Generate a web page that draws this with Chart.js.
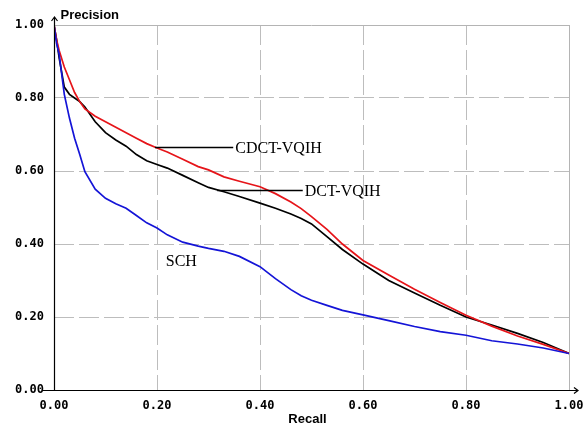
<!DOCTYPE html>
<html>
<head>
<meta charset="utf-8">
<script src="https://cdn.jsdelivr.net/npm/chart.js@4"></script>
<style>
  body { margin: 0; background: #fff; }
  #wrap { width: 585px; height: 428px; }
</style>
</head>
<body>
<div id="wrap"><canvas id="chart" width="585" height="428"></canvas></div>
<script>
// recall values shared by all three curves
const recall = [0, 0.005, 0.01, 0.02, 0.03, 0.04, 0.05, 0.06, 0.08, 0.10, 0.12, 0.14, 0.16, 0.18, 0.20,
  0.22, 0.25, 0.28, 0.30, 0.33, 0.36, 0.40, 0.43, 0.46, 0.48, 0.50, 0.53, 0.56, 0.60, 0.65, 0.70,
  0.75, 0.80, 0.85, 0.90, 0.95, 1.00];

const cdctVqih = [1.00, 0.96, 0.93, 0.885, 0.85, 0.815, 0.79, 0.77, 0.75, 0.735, 0.72, 0.705, 0.69, 0.675, 0.663,
  0.652, 0.632, 0.612, 0.603, 0.584, 0.572, 0.557, 0.538, 0.515, 0.497, 0.475, 0.44, 0.40, 0.355, 0.315, 0.276,
  0.24, 0.205, 0.175, 0.148, 0.125, 0.10];

const dctVqih = [1.00, 0.96, 0.91, 0.83, 0.81, 0.80, 0.79, 0.775, 0.735, 0.705, 0.685, 0.668, 0.645, 0.628, 0.618,
  0.608, 0.588, 0.568, 0.555, 0.543, 0.530, 0.512, 0.498, 0.482, 0.47, 0.455, 0.42, 0.385, 0.345, 0.30, 0.266,
  0.232, 0.20, 0.178, 0.155, 0.13, 0.10];

const sch = [1.00, 0.95, 0.92, 0.81, 0.745, 0.69, 0.645, 0.598, 0.55, 0.525, 0.51, 0.498, 0.478, 0.458, 0.444,
  0.425, 0.405, 0.394, 0.388, 0.38, 0.366, 0.338, 0.305, 0.275, 0.258, 0.246, 0.232, 0.218, 0.206, 0.19, 0.174,
  0.16, 0.15, 0.135, 0.126, 0.115, 0.10];

const tickValues = [0, 0.2, 0.4, 0.6, 0.8, 1.0];

// callout labels: text, leader line from/to (recall), precision, text start (recall)
const labelText = ["CDCT-VQIH", "DCT-VQIH", "SCH"];
const labelLineFrom = [0.196, 0.317, null];
const labelLineTo = [0.348, 0.483, null];
const labelY = [0.666, 0.548, 0.356];
const labelX = [0.352, 0.487, 0.217];

function points(ys) {
  return recall.map((r, i) => ({ x: r, y: ys[i] }));
}

const decorations = {
  id: "decorations",
  afterDatasetsDraw(chart) {
    const ctx = chart.ctx;
    const xs = chart.scales.x, ys = chart.scales.y;
    const a = chart.chartArea;
    ctx.save();

    // solid frame lines at 1.00
    ctx.strokeStyle = "#b4b4b4";
    ctx.lineWidth = 1;
    ctx.beginPath();
    ctx.moveTo(a.left, Math.round(ys.getPixelForValue(1)) + 0.5);
    ctx.lineTo(a.right, Math.round(ys.getPixelForValue(1)) + 0.5);
    ctx.moveTo(Math.round(xs.getPixelForValue(1)) + 0.5, a.top);
    ctx.lineTo(Math.round(xs.getPixelForValue(1)) + 0.5, a.bottom);
    ctx.stroke();

    // axes with arrows
    const x0 = Math.round(xs.getPixelForValue(0)) + 0.5;
    const y0 = Math.round(ys.getPixelForValue(0)) + 0.5;
    ctx.strokeStyle = "#000";
    ctx.lineWidth = 1.2;
    ctx.beginPath();
    ctx.moveTo(x0, y0);
    ctx.lineTo(x0, a.top - 8);
    ctx.moveTo(x0 - 3, a.top - 4);
    ctx.lineTo(x0, a.top - 8);
    ctx.lineTo(x0 + 3, a.top - 4);
    ctx.moveTo(a.left - 12, y0);
    ctx.lineTo(a.right + 9, y0);
    ctx.moveTo(a.right + 5, y0 - 3);
    ctx.lineTo(a.right + 9, y0);
    ctx.lineTo(a.right + 5, y0 + 3);
    ctx.stroke();

    // axis titles
    ctx.fillStyle = "#000";
    ctx.font = "bold 13px 'Liberation Sans', Arial, sans-serif";
    ctx.textBaseline = "middle";
    ctx.textAlign = "left";
    ctx.fillText("Precision", x0 + 6, a.top - 10);
    ctx.textAlign = "center";
    ctx.fillText("Recall", (a.left + a.right) / 2 - 4, y0 + 29);

    // callouts
    ctx.font = "16px 'Liberation Serif', 'Times New Roman', serif";
    ctx.textAlign = "left";
    ctx.lineWidth = 1.5;
    labelText.forEach((t, i) => {
      const py = Math.round(ys.getPixelForValue(labelY[i])) + 0.5;
      if (labelLineFrom[i] !== null) {
        ctx.beginPath();
        ctx.moveTo(xs.getPixelForValue(labelLineFrom[i]), py);
        ctx.lineTo(xs.getPixelForValue(labelLineTo[i]), py);
        ctx.stroke();
      }
      ctx.fillText(t, xs.getPixelForValue(labelX[i]), py + 1);
    });
    ctx.restore();
  }
};

const tickFont = { family: "'DejaVu Sans Mono', monospace", size: 12, weight: "bold" };

new Chart(document.getElementById("chart"), {
  type: "scatter",
  data: {
    datasets: [
      { label: "SCH", data: points(sch), borderColor: "rgb(20,20,215)" },
      { label: "CDCT-VQIH", data: points(cdctVqih), borderColor: "rgb(230,20,25)" },
      { label: "DCT-VQIH", data: points(dctVqih), borderColor: "#000" }
    ].map(d => Object.assign(d, { showLine: true, pointRadius: 0, borderWidth: 1.7, tension: 0, fill: false }))
  },
  options: {
    responsive: false,
    animation: false,
    layout: { padding: { top: 25, right: 16, left: 0, bottom: 0 } },
    plugins: { legend: { display: false }, tooltip: { enabled: false } },
    scales: {
      x: {
        type: "linear", min: 0, max: 1,
        afterBuildTicks: s => { s.ticks = tickValues.map(v => ({ value: v })); },
        afterFit: s => { s.height = 38; s.paddingLeft = 0; s.paddingRight = 0; },
        grid: {
          drawTicks: false,
          color: ctx => (ctx.tick && ctx.tick.value > 0 && ctx.tick.value < 1) ? "#bdbdbd" : "rgba(0,0,0,0)"
        },
        border: { display: false, dash: [20, 5] },
        ticks: { padding: 9, color: "#000", font: tickFont, callback: v => v.toFixed(2) }
      },
      y: {
        type: "linear", min: 0, max: 1,
        afterBuildTicks: s => { s.ticks = tickValues.map(v => ({ value: v })); },
        afterFit: s => { s.width = 54; s.paddingTop = 0; s.paddingBottom = 0; },
        grid: {
          drawTicks: false,
          color: ctx => (ctx.tick && ctx.tick.value > 0 && ctx.tick.value < 1) ? "#bdbdbd" : "rgba(0,0,0,0)"
        },
        border: { display: false, dash: [20, 5] },
        ticks: { padding: 10, color: "#000", font: tickFont, callback: v => v.toFixed(2) }
      }
    }
  },
  plugins: [decorations]
});
</script>
</body>
</html>
